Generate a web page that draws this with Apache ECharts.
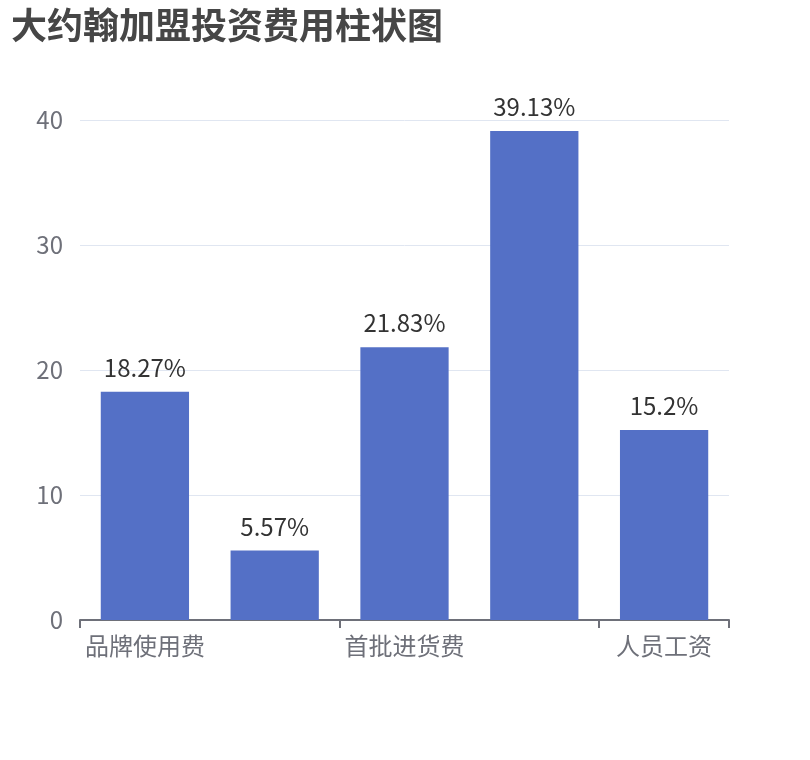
<!DOCTYPE html>
<html lang="zh">
<head>
    <meta charset="UTF-8">
    <title>大约翰加盟投资费用柱状图</title>
    <script src="https://cdn.jsdelivr.net/npm/echarts@6/dist/echarts.min.js"></script>
    <style>
        body { margin: 0; padding: 0; background: #fff; }
        #chart { width: 810px; height: 760px; }
    </style>
</head>
<body>
<div id="chart"></div>
<script>
// 费用类别与占比（%）
const categories = ['品牌使用费', '店面装修费', '首批进货费', '店面租金', '人员工资'];
const percents = [18.27, 5.57, 21.83, 39.13, 15.2];

const font = '"Microsoft YaHei", "Noto Sans CJK SC", sans-serif';
const chart = echarts.init(document.getElementById('chart'));

chart.setOption({
    title: {
        text: '大约翰加盟投资费用柱状图',
        left: 6,
        top: 2,
        textStyle: { fontSize: 36, fontWeight: 'bold', color: '#464646', fontFamily: font }
    },
    grid: { left: 80, right: 81, top: 120, bottom: 140, containLabel: false },
    xAxis: {
        type: 'category',
        data: categories,
        axisLine: { lineStyle: { color: '#6E7079', width: 2 } },
        axisTick: { show: true, interval: 1, length: 8, lineStyle: { color: '#6E7079', width: 2 } },
        axisLabel: { interval: 1, fontSize: 24, margin: 14, color: '#6E7079', fontFamily: font }
    },
    yAxis: {
        type: 'value',
        min: 0,
        max: 40,
        interval: 10,
        axisLabel: { fontSize: 24, margin: 17, color: '#6E7079', fontFamily: font },
        splitLine: { lineStyle: { color: '#E0E6F1' } }
    },
    series: [{
        type: 'bar',
        data: percents,
        barWidth: '68%',
        itemStyle: { color: '#5470c6' },
        label: {
            show: true,
            position: 'top',
            distance: 12,
            formatter: '{c}%',
            fontSize: 24,
            color: '#333',
            fontFamily: font
        }
    }]
});
</script>
</body>
</html>
